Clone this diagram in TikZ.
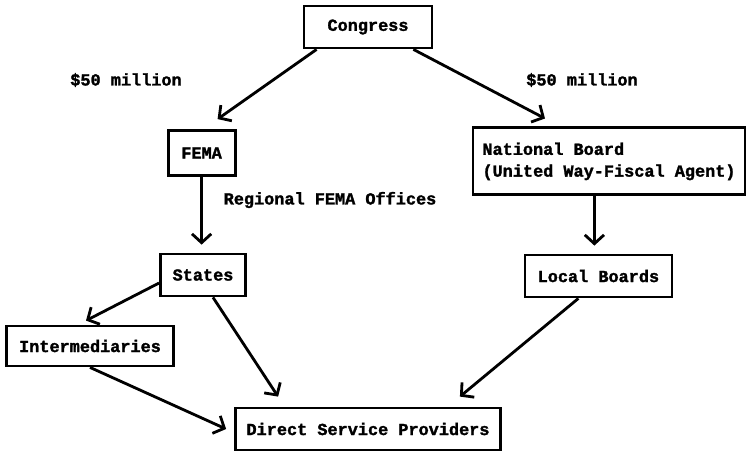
\documentclass[tikz,border=0pt]{standalone}
\usepackage{fontspec}
\setmonofont{Liberation Mono}[BoldFeatures={FakeBold=1.6}]
\usetikzlibrary{arrows.meta}
\tikzset{
  box/.style={draw, line width=2pt, inner sep=0pt, minimum height=1.05cm},
  flow/.style={line width=2pt, -{Straight Barb[length=2.2mm,width=4.8mm,line width=2pt]}},
  lbl/.style={inner sep=0pt}
}
\begin{document}
\begin{tikzpicture}[font=\ttfamily\bfseries\fontsize{12}{15.5}\selectfont]
      \useasboundingbox (0,0) rectangle (18.675,11.275);
      \node[box, minimum width=3.2cm] (congress) at (9.2,10.6) {Congress};
      \node[box, minimum width=1.675cm, minimum height=1.125cm] (fema) at (5.04,7.45) {FEMA};
      \node[box, minimum width=6.8cm, minimum height=1.675cm, align=left] (national) at (15.225,7.24)
        {National Board\\(United Way-Fiscal Agent)};
      \node[box, minimum width=2.125cm] (states) at (5.075,4.4) {States};
      \node[box, minimum width=3.675cm, minimum height=1.05cm] (local) at (14.96,4.375) {Local Boards};
      \node[box, minimum width=4.175cm, minimum height=1cm] (inter) at (2.25,2.625) {Intermediaries};
      \node[box, minimum width=6.625cm] (dsp) at (9.2,0.55) {Direct Service Providers};
      % funding amounts
      \node[lbl] (leftsum) at (3.15,9.275) {\$50 million};
      \node[lbl] (rightsum) at (14.55,9.275) {\$50 million};
      \node[lbl] (regional) at (8.25,6.275) {Regional FEMA Offices};
      % federal side
      \draw[flow] ([xshift=3.5mm]congress.south west) -- ([xshift=4mm,yshift=2.5mm]fema.north);
      \draw[flow] (fema.south) -- ([yshift=2mm]fema.south |- states.north);
      \draw[flow] ([yshift=-2mm]states.west) -- ([xshift=-1mm,yshift=1mm]inter.north);
      \draw[flow] ([xshift=2.5mm]states.south) -- ([xshift=11mm,yshift=2.5mm]dsp.north west);
      \draw[flow] (inter.south) -- ([xshift=-2mm]dsp.west);
      % national board side
      \draw[flow] ([xshift=-5mm]congress.south east) -- ([xshift=-1.6cm,yshift=2mm]national.north);
      \draw[flow] ([xshift=-1mm]local.north |- national.south) -- ([xshift=-1mm,yshift=2mm]local.north);
      \draw[flow] ([xshift=-5mm]local.south) -- ([xshift=-1.05cm,yshift=2.5mm]dsp.north east);
    \end{tikzpicture}
\end{document}
